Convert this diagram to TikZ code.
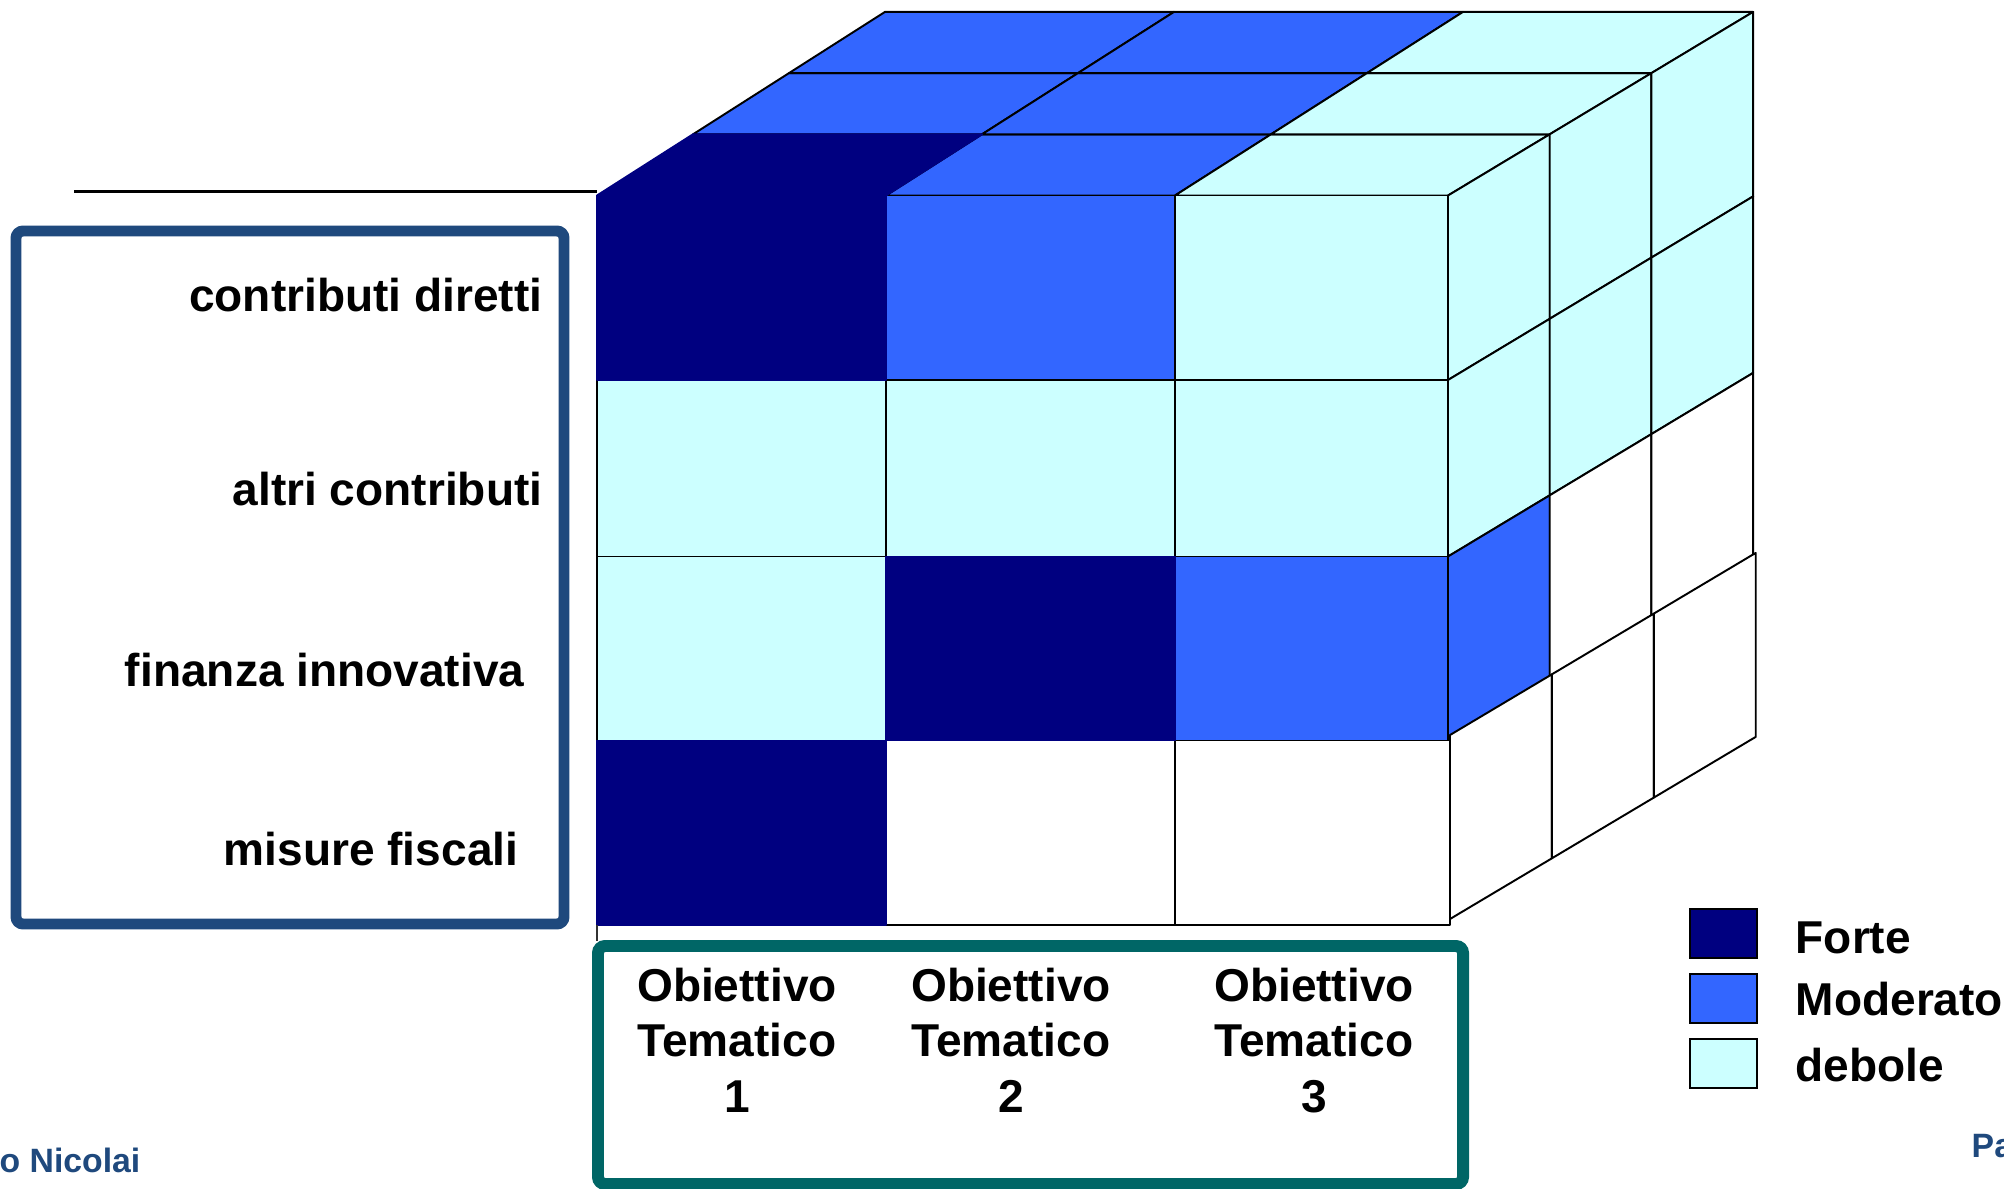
\documentclass[tikz,border=0pt]{standalone}
\usepackage{fontspec}
\setmainfont{Liberation Sans}
\definecolor{forte}{RGB}{0,0,128}
\definecolor{moder}{RGB}{51,102,255}
\definecolor{debole}{RGB}{204,255,255}
\definecolor{boxblue}{RGB}{31,73,125}
\definecolor{tealbox}{RGB}{0,102,102}
\begin{document}
\begin{tikzpicture}[x=0.01cm,y=-0.01cm,
  cell/.style={draw=black, line width=0.55pt, line join=round},
  darkcell/.style={draw=forte, fill=forte, line width=0.55pt, line join=round},
  lab/.style={font=\fontsize{13.1}{15.65}\selectfont\bfseries, inner sep=0pt},
  foot/.style={font=\fontsize{9.6}{11}\selectfont\bfseries, text=boxblue, inner sep=0pt},
  legbox/.style={draw=black, line width=0.6pt}]
\clip (0,0) rectangle (2004,1189);
\fill[white] (0,0) rectangle (2004,1189);

% ---------- coordinates of the cube ----------
\foreach \i/\xx in {0/597,1/886,2/1175}{
  \foreach \k in {0,1,2,3}{
    \coordinate (t\i-\k) at ({\xx+96*\k},{195.5-61.2*\k});
  }
}
\foreach \k in {0,1,2,3}{
  \coordinate (t3-\k) at ({1448+101.7*\k},{195.5-61.2*\k});
}
\foreach \j/\yy in {0/195.5,1/380,2/556.5,3/740.5}{
  \foreach \k in {0,1,2,3}{
    \coordinate (r\j-\k) at ({1448+101.7*\k},{\yy-61.2*\k});
  }
}
\foreach \j/\yy in {0/735,1/919}{
  \foreach \k in {0,1,2,3}{
    \coordinate (q\j-\k) at ({1450+101.9*\k},{\yy-60.7*\k});
  }
}

% ---------- top face ----------
\path[cell, fill=moder] (t0-1) -- (t1-1) -- (t1-2) -- (t0-2) -- cycle;
\path[cell, fill=moder] (t0-2) -- (t1-2) -- (t1-3) -- (t0-3) -- cycle;
\path[cell, fill=moder] (t1-0) -- (t2-0) -- (t2-1) -- (t1-1) -- cycle;
\path[cell, fill=moder] (t1-1) -- (t2-1) -- (t2-2) -- (t1-2) -- cycle;
\path[cell, fill=moder] (t1-2) -- (t2-2) -- (t2-3) -- (t1-3) -- cycle;
\path[cell, fill=debole] (t2-0) -- (t3-0) -- (t3-1) -- (t2-1) -- cycle;
\path[cell, fill=debole] (t2-1) -- (t3-1) -- (t3-2) -- (t2-2) -- cycle;
\path[cell, fill=debole] (t2-2) -- (t3-2) -- (t3-3) -- (t2-3) -- cycle;

% ---------- right face ----------
\path[cell, fill=debole] (r0-0) -- (r0-1) -- (r1-1) -- (r1-0) -- cycle;
\path[cell, fill=debole] (r0-1) -- (r0-2) -- (r1-2) -- (r1-1) -- cycle;
\path[cell, fill=debole] (r0-2) -- (r0-3) -- (r1-3) -- (r1-2) -- cycle;
\path[cell, fill=debole] (r1-0) -- (r1-1) -- (r2-1) -- (r2-0) -- cycle;
\path[cell, fill=debole] (r1-1) -- (r1-2) -- (r2-2) -- (r2-1) -- cycle;
\path[cell, fill=debole] (r1-2) -- (r1-3) -- (r2-3) -- (r2-2) -- cycle;
\path[cell, fill=moder] (r2-0) -- (r2-1) -- (r3-1) -- (r3-0) -- cycle;
\path[cell, fill=white] (r2-1) -- (r2-2) -- (r3-2) -- (r3-1) -- cycle;
\path[cell, fill=white] (r2-2) -- (r2-3) -- (r3-3) -- (r3-2) -- cycle;
\path[cell, fill=white] (q0-0) -- (q0-1) -- (q1-1) -- (q1-0) -- cycle;
\path[cell, fill=white] (q0-1) -- (q0-2) -- (q1-2) -- (q1-1) -- cycle;
\path[cell, fill=white] (q0-2) -- (q0-3) -- (q1-3) -- (q1-2) -- cycle;

% ---------- front face ----------
\path[cell, fill=moder]  (886,195.5) rectangle (1175,380);
\path[cell, fill=debole] (1175,195.5) rectangle (1448,380);
\path[cell, fill=debole] (597,380) rectangle (886,556.5);
\path[cell, fill=debole] (886,380) rectangle (1175,556.5);
\path[cell, fill=debole] (1175,380) rectangle (1448,556.5);
\path[cell, fill=debole] (597,556.5) rectangle (886,740.5);
\path[cell, fill=moder]  (1175,556.5) rectangle (1448,740.5);
\path[cell, fill=white]  (886,740.5) rectangle (1175,925);
\path[cell, fill=white]  (1175,740.5) rectangle (1450,925);

% dark (Forte) cells
\path[darkcell] (t0-0) -- (t1-0) -- (t1-1) -- (t0-1) -- cycle;
\path[darkcell] (597,195.5) rectangle (886,380);
\path[darkcell] (886,556.5) rectangle (1175,740.5);
\path[darkcell] (597,740.5) rectangle (886,925);

% small base line under the cube and horizontal line at left
\coordinate (baseA) at (597,925);
\coordinate (baseB) at (597,941);
\draw[line width=0.55pt, black!80] (baseA) -- (baseB);
\coordinate (hlA) at (74,191.5);
\coordinate (hlB) at (597,191.5);
\draw[line width=0.8pt] (hlA) -- (hlB);

% ---------- left box ----------
\draw[line width=3.1pt, draw=boxblue, rounded corners=2pt] (16,231) rectangle (564,924);
\node[lab, anchor=base east] (l1) at (543,312) {contributi diretti};
\node[lab, anchor=base east] (l2) at (543,505.6) {altri contributi};
\node[lab, anchor=base east] (l3) at (525,686.7) {finanza innovativa};
\node[lab, anchor=base east] (l4) at (519,865.8) {misure fiscali};

% ---------- bottom box ----------
\draw[line width=3.4pt, draw=tealbox, rounded corners=2pt] (598,946) rectangle (1463,1184);
\node[lab, align=center, anchor=base] (o1) at (737,1112) {Obiettivo\\Tematico\\1};
\node[lab, align=center, anchor=base] (o2) at (1011,1112) {Obiettivo\\Tematico\\2};
\node[lab, align=center, anchor=base] (o3) at (1314,1112) {Obiettivo\\Tematico\\3};

% ---------- legend ----------
\path[legbox, fill=forte]  (1690,909) rectangle (1757,958);
\path[legbox, fill=moder]  (1690,974) rectangle (1757,1023);
\path[legbox, fill=debole] (1690,1039) rectangle (1757,1088);
\node[lab, anchor=base west] (lf) at (1795,953) {Forte};
\node[lab, anchor=base west] (lm) at (1795,1015) {Moderato};
\node[lab, anchor=base west] (ld) at (1795,1081) {debole};

% ---------- footer ----------
\node[foot, anchor=base west] (f1) at (-1,1172.7) {o Nicolai};
\node[foot, anchor=base west] (f2) at (1971,1157.7) {Pa};
\end{tikzpicture}
\end{document}
